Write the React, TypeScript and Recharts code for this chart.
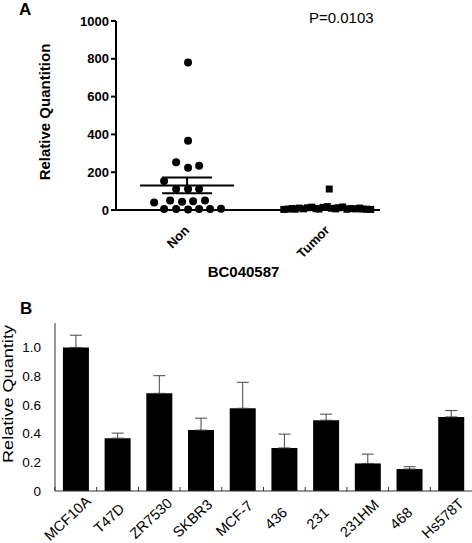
import React from 'react'
import {
  ScatterChart,
  Scatter,
  BarChart,
  Bar,
  XAxis,
  YAxis,
  ErrorBar,
  ReferenceLine,
} from 'recharts'

// panel A: BC040587 relative quantition, normal vs tumor tissue
const groupNames = ['Non', 'Tumor']
const nonValues = [781, 367, 252, 224, 234, 153, 111, 111, 111, 40, 50, 44, 46, 50, 5, 5, 2, 5, 5, 6]
const nonJitter = [0.007, 0.007, -0.078, 0.007, 0.086, -0.164, -0.078, 0.007, 0.086, -0.235, -0.121, -0.036, 0.043, 0.128, -0.164, -0.078, 0.007, 0.086, 0.164, 0.242]
const tumorValues = [3, 5, 8, 4, 10, 6, 12, 15, 7, 5, 14, 18, 9, 6, 12, 16, 4, 8, 6, 10, 5, 4, 3, 111]
const tumorJitter = [-0.31, -0.28, -0.25, -0.23, -0.2, -0.17, -0.14, -0.11, -0.08, -0.06, -0.03, 0.0, 0.03, 0.06, 0.08, 0.11, 0.14, 0.17, 0.2, 0.23, 0.25, 0.28, 0.31, 0.014]
const yTicksA = [0, 200, 400, 600, 800, 1000]

// panel B: cell lines
const cellLines = ['MCF10A', 'T47D', 'ZR7530', 'SKBR3', 'MCF-7', '436', '231', '231HM', '468', 'Hs578T']
const quantity = [1.0, 0.368, 0.68, 0.424, 0.576, 0.3, 0.493, 0.192, 0.153, 0.516]
const errorUp = [0.085, 0.035, 0.123, 0.083, 0.181, 0.096, 0.042, 0.065, 0.016, 0.044]
const yTicksB = [0, 0.2, 0.4, 0.6, 0.8, 1.0]

const FONT = 'Arial, "Liberation Sans", sans-serif'

const stats = (vals: number[]) => {
  const n = vals.length
  const mean = vals.reduce((a, b) => a + b, 0) / n
  const sd = Math.sqrt(vals.reduce((a, b) => a + (b - mean) ** 2, 0) / (n - 1))
  return { mean, sem: sd / Math.sqrt(n) }
}

const nonPoints = nonValues.map((v, i) => ({ x: 1 + nonJitter[i], y: v }))
const tumorPoints = tumorValues.map((v, i) => ({ x: 2 + tumorJitter[i], y: v }))

const barData = cellLines.map((name, i) => ({
  name,
  value: quantity[i],
  err: [0, errorUp[i]],
}))

const Dot = (props: any) => <circle cx={props.cx} cy={props.cy} r={4} fill="#000" />
const Square = (props: any) => (
  <rect x={props.cx - 3.5} y={props.cy - 3.5} width={7} height={7} fill="#000" />
)

const GroupTick = ({ x, y, payload }: any) => (
  <text
    x={x + 3}
    y={y + 21}
    textAnchor="end"
    transform={`rotate(-45, ${x + 3}, ${y + 21})`}
    fontFamily={FONT}
    fontWeight="bold"
    fontSize={13}
    fill="#000"
  >
    {groupNames[payload.value - 1]}
  </text>
)

const BAND = (472 - 55) / cellLines.length

const CellTick = ({ x, y, payload }: any) => (
  <g>
    <line x1={x - BAND / 2} y1={y} x2={x - BAND / 2} y2={y - 4} stroke="#333" />
    <text
      x={x - 5}
      y={y + 31}
      textAnchor="middle"
      transform={`rotate(-43, ${x - 5}, ${y + 31})`}
      fontFamily={FONT}
      fontSize={14.5}
      fill="#000"
    >
      {payload.value}
    </text>
  </g>
)

export default function App() {
  const meanLines = [
    { cx: 1, s: stats(nonValues), half: 0.335, cap: 0.178 },
    { cx: 2, s: stats(tumorValues), half: 0.32, cap: 0.15 },
  ]
  return (
    <div style={{ position: 'absolute', left: 0, top: 0, width: 472, height: 543, background: '#fff' }}>
      <div style={{ position: 'absolute', left: 0, top: 0 }}>
        <ScatterChart width={472} height={262} margin={{ top: 21, right: 92, bottom: 0, left: 0 }}>
          <XAxis
            type="number"
            dataKey="x"
            domain={[0.493, 2.376]}
            ticks={[1, 2]}
            tick={<GroupTick />}
            tickLine={false}
            tickSize={0}
            tickMargin={0}
            height={52}
            axisLine={{ stroke: '#000', strokeWidth: 2 }}
            allowDataOverflow
          />
          <YAxis
            type="number"
            dataKey="y"
            domain={[0, 1000]}
            ticks={yTicksA}
            width={116}
            tickSize={5}
            tickLine={{ stroke: '#000', strokeWidth: 2 }}
            axisLine={{ stroke: '#000', strokeWidth: 2 }}
            tick={{ fill: '#000', fontSize: 13, fontWeight: 'bold', fontFamily: FONT }}
          />
          {meanLines.map((m, i) => (
            <ReferenceLine
              key={`mean-${i}`}
              segment={[{ x: m.cx - m.half, y: m.s.mean }, { x: m.cx + m.half, y: m.s.mean }]}
              stroke="#000"
              strokeWidth={2}
            />
          ))}
          {meanLines.map((m, i) => (
            <ReferenceLine
              key={`semhi-${i}`}
              segment={[{ x: m.cx - m.cap, y: m.s.mean + m.s.sem }, { x: m.cx + m.cap, y: m.s.mean + m.s.sem }]}
              stroke="#000"
              strokeWidth={2}
            />
          ))}
          {meanLines.map((m, i) => (
            <ReferenceLine
              key={`semlo-${i}`}
              segment={[{ x: m.cx - m.cap, y: m.s.mean - m.s.sem }, { x: m.cx + m.cap, y: m.s.mean - m.s.sem }]}
              stroke="#000"
              strokeWidth={2}
            />
          ))}
          {meanLines.map((m, i) => (
            <ReferenceLine
              key={`semv-${i}`}
              segment={[{ x: m.cx, y: m.s.mean - m.s.sem }, { x: m.cx, y: m.s.mean + m.s.sem }]}
              stroke="#000"
              strokeWidth={2}
            />
          ))}
          <Scatter data={nonPoints} shape={<Dot />} isAnimationActive={false} />
          <Scatter data={tumorPoints} shape={<Square />} isAnimationActive={false} />
        </ScatterChart>
      </div>
      <div style={{ position: 'absolute', left: 0, top: 300 }}>
        <BarChart
          width={472}
          height={243}
          data={barData}
          margin={{ top: 23, right: 0, bottom: 0, left: 0 }}
          barCategoryGap="19%"
        >
          <XAxis
            dataKey="name"
            interval={0}
            height={52}
            tickLine={false}
            tickSize={0}
            tickMargin={0}
            tick={<CellTick />}
            axisLine={{ stroke: '#333', strokeWidth: 1 }}
          />
          <YAxis
            domain={[0, 1.17]}
            ticks={yTicksB}
            width={55}
            tickLine={false}
            tickMargin={14}
            tickSize={0}
            axisLine={{ stroke: '#333', strokeWidth: 1 }}
            tickFormatter={(v: number) => (v === 0 ? '0' : v.toFixed(1))}
            tick={{ fill: '#000', fontSize: 13.5, fontFamily: FONT }}
            allowDataOverflow
          />
          <Bar dataKey="value" fill="#000" isAnimationActive={false}>
            <ErrorBar dataKey="err" width={6} stroke="#444" strokeWidth={1} direction="y" />
          </Bar>
        </BarChart>
      </div>
      <svg
        width={472}
        height={543}
        style={{ position: 'absolute', left: 0, top: 0, pointerEvents: 'none' }}
        fontFamily={FONT}
      >
        <text x={19} y={15} fontSize={17} fontWeight="bold">A</text>
        <text x={309} y={23} fontSize={15}>P=0.0103</text>
        <text
          transform="translate(49.5,112) rotate(-90)"
          textAnchor="middle"
          fontSize={15}
          fontWeight="bold"
        >
          Relative Quantition
        </text>
        <text x={243.5} y={277} textAnchor="middle" fontSize={15} fontWeight="bold">BC040587</text>
        <text x={20} y={314} fontSize={17} fontWeight="bold">B</text>
        <text
          transform="translate(12.5,394) rotate(-90)"
          textAnchor="middle"
          fontSize={15}
          textLength={138}
          lengthAdjust="spacingAndGlyphs"
        >
          Relative Quantity
        </text>
      </svg>
    </div>
  )
}
